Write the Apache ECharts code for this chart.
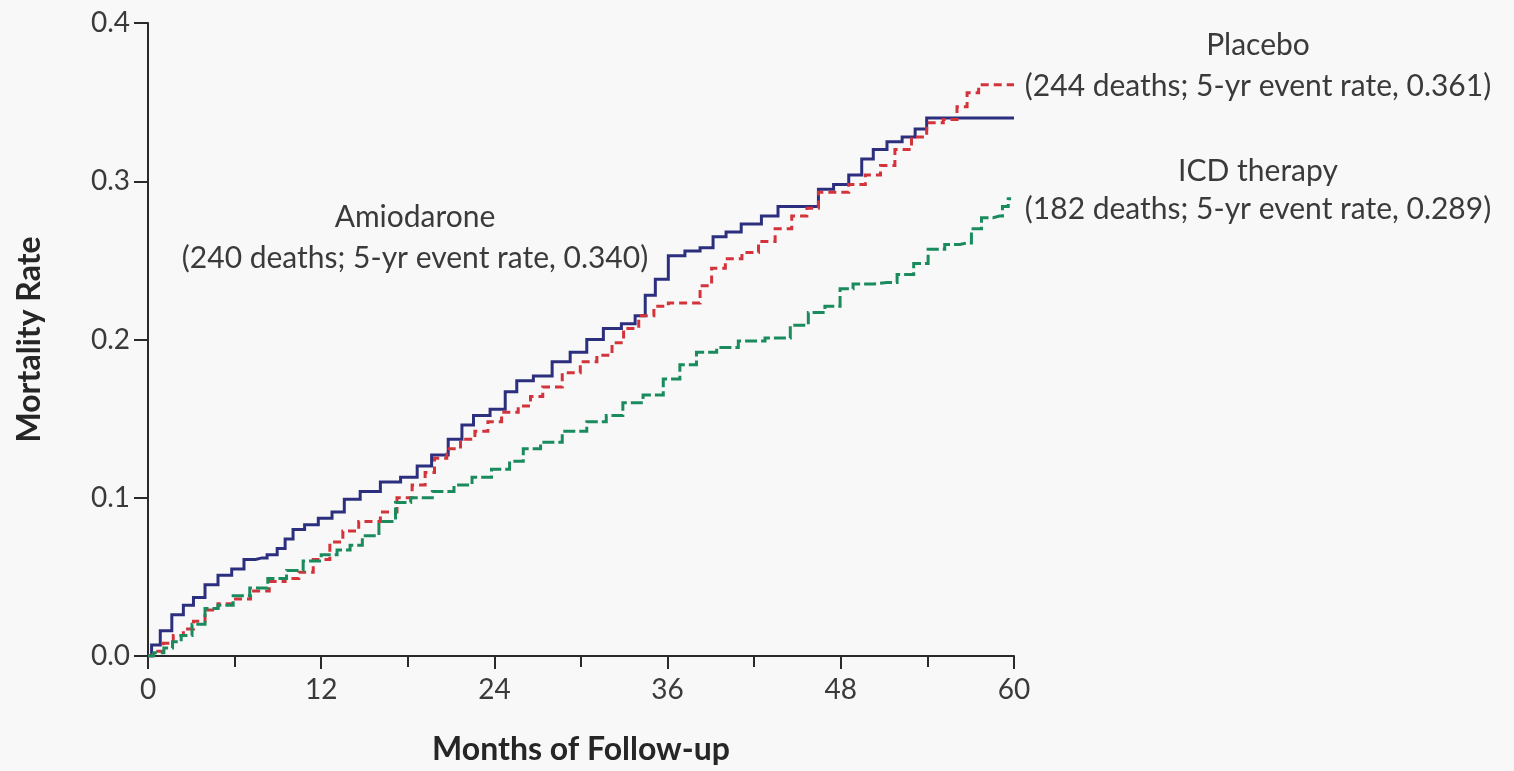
<!DOCTYPE html>
<html>
<head>
<meta charset="utf-8">
<title>Mortality Rate by Treatment Group</title>
<script src="https://cdn.jsdelivr.net/npm/echarts@6/dist/echarts.min.js"></script>
<style>
  html, body { margin: 0; padding: 0; background: #f8f8f8; }
  #chart { width: 1514px; height: 771px; }
</style>
</head>
<body>
<div id="chart"></div>
<script>
// Kaplan-Meier style cumulative mortality, months 0-60
const xTicks = [0, 12, 24, 36, 48, 60];
const yTicks = [0.0, 0.1, 0.2, 0.3, 0.4];

const amioMonths = [0, 0.5, 1.2, 2.1, 2.8, 3.5, 4.4, 5.3, 6.3, 7.0,
  7.9, 8.6, 9.3, 9.7, 10.4, 11.3, 12.3, 13.2, 14.0, 15.4,
  16.8, 18.2, 19.1, 20.2, 21.4, 22.1, 23.0, 24.4, 25.1, 26.0,
  27.4, 28.6, 29.9, 30.9, 32.2, 33.4, 34.1, 34.8, 35.5, 36.6,
  37.8, 38.7, 39.6, 40.5, 41.7, 43.3, 44.0, 45.9, 47.0, 48.0,
  49.1, 49.8, 50.7, 51.7, 52.8, 53.5, 54.4, 60];
const amioRates = [0, 0.007, 0.016, 0.026, 0.032, 0.037, 0.045, 0.051, 0.055, 0.061,
  0.062, 0.064, 0.068, 0.074, 0.080, 0.083, 0.087, 0.091, 0.099, 0.104,
  0.110, 0.113, 0.120, 0.127, 0.137, 0.146, 0.152, 0.156, 0.167, 0.174,
  0.177, 0.186, 0.192, 0.200, 0.207, 0.210, 0.215, 0.228, 0.238, 0.253,
  0.256, 0.258, 0.265, 0.268, 0.273, 0.278, 0.284, 0.284, 0.295, 0.298,
  0.304, 0.314, 0.320, 0.325, 0.328, 0.333, 0.340, 0.340];

const placeboMonths = [0, 0.7, 1.4, 2.1, 2.8, 3.5, 4.4, 5.3, 6.4, 7.8,
  9.0, 10.0, 10.9, 12.0, 13.2, 13.8, 15.4, 16.8, 17.7, 18.9,
  19.5, 20.2, 21.2, 22.1, 23.2, 23.9, 25.1, 26.2, 26.8, 27.9,
  29.5, 30.4, 31.8, 32.5, 33.4, 34.6, 35.5, 36.6, 37.8, 38.7,
  39.4, 40.6, 41.7, 42.9, 44.0, 45.2, 46.1, 46.8, 48.0, 49.1,
  50.3, 51.2, 52.3, 53.5, 54.4, 55.8, 56.3, 57.2, 57.9, 60];
const placeboRates = [0, 0.003, 0.008, 0.013, 0.017, 0.022, 0.029, 0.033, 0.036, 0.041,
  0.047, 0.049, 0.053, 0.061, 0.072, 0.079, 0.085, 0.091, 0.100, 0.108,
  0.116, 0.125, 0.131, 0.137, 0.142, 0.148, 0.154, 0.158, 0.164, 0.170,
  0.179, 0.186, 0.190, 0.198, 0.207, 0.215, 0.221, 0.223, 0.223, 0.234,
  0.245, 0.251, 0.255, 0.262, 0.270, 0.278, 0.283, 0.293, 0.293, 0.298,
  0.304, 0.310, 0.320, 0.328, 0.337, 0.339, 0.347, 0.356, 0.361, 0.361];

const icdMonths = [0, 0.8, 1.4, 2.0, 2.6, 3.5, 4.4, 5.3, 6.5, 7.6,
  9.0, 10.2, 11.3, 12.7, 13.5, 14.5, 15.2, 16.8, 17.5, 18.9,
  20.5, 21.9, 23.0, 24.6, 25.5, 26.5, 27.9, 29.5, 31.3, 32.2,
  33.6, 35.0, 36.4, 37.3, 38.7, 40.1, 41.7, 43.8, 45.2, 46.3,
  47.5, 48.4, 49.3, 51.2, 52.6, 53.5, 54.6, 55.8, 56.7, 57.4,
  58.1, 59.0, 59.4, 59.8];
const icdRates = [0, 0.002, 0.005, 0.009, 0.013, 0.020, 0.030, 0.032, 0.038, 0.043,
  0.049, 0.054, 0.060, 0.064, 0.067, 0.070, 0.076, 0.085, 0.097, 0.100,
  0.104, 0.108, 0.113, 0.118, 0.123, 0.131, 0.135, 0.142, 0.148, 0.152,
  0.160, 0.165, 0.175, 0.184, 0.192, 0.195, 0.199, 0.201, 0.209, 0.217,
  0.221, 0.232, 0.235, 0.236, 0.241, 0.248, 0.257, 0.260, 0.261, 0.270,
  0.277, 0.278, 0.284, 0.289];

const seriesNames = ['Amiodarone', 'Placebo', 'ICD therapy'];
const groupNotes = [
  '(240 deaths; 5-yr event rate, 0.340)',
  '(244 deaths; 5-yr event rate, 0.361)',
  '(182 deaths; 5-yr event rate, 0.289)'
];

const zip = (xs, ys) => xs.map((x, i) => [x, ys[i]]);

const FONT = 'Lato, "Open Sans", sans-serif';
const TEXT = '#3a3a3a';
const AXIS = '#2a2a2a';

const chart = echarts.init(document.getElementById('chart'), null, { renderer: 'canvas' });

const lineSeries = (name, data, color, type) => ({
  name,
  type: 'line',
  step: 'middle',
  data,
  showSymbol: false,
  symbol: 'none',
  animation: false,
  lineStyle: { color, width: 3, type, cap: 'butt', join: 'miter' }
});

// one centred line of annotation text
const note = (cx, cy, text) => ({
  type: 'text',
  x: cx, y: cy,
  style: {
    text,
    fill: TEXT,
    font: '30px ' + FONT,
    textAlign: 'center',
    textVerticalAlign: 'middle'
  }
});

chart.setOption({
  backgroundColor: '#f8f8f8',
  animation: false,
  grid: { left: 148, right: 500, top: 23, bottom: 113, containLabel: false },
  xAxis: {
    type: 'value',
    min: 0, max: 60, interval: 12,
    axisLine: { show: true, lineStyle: { color: AXIS, width: 2 } },
    axisTick: { show: true, length: 13, lineStyle: { color: AXIS, width: 2 } },
    minorTick: { show: true, splitNumber: 2, length: 11, lineStyle: { color: AXIS, width: 2 } },
    splitLine: { show: false },
    axisLabel: {
      color: TEXT, fontFamily: FONT, fontSize: 28, margin: 20,
      formatter: v => xTicks.includes(v) ? String(v) : ''
    },
    name: 'Months of Follow-up',
    nameLocation: 'middle',
    nameGap: 78,
    nameTextStyle: { color: '#262626', fontFamily: FONT, fontSize: 32, fontWeight: 'bold' }
  },
  yAxis: {
    type: 'value',
    min: 0, max: 0.4, interval: 0.1,
    axisLine: { show: true, lineStyle: { color: AXIS, width: 2 } },
    axisTick: { show: true, length: 14, lineStyle: { color: AXIS, width: 2 } },
    splitLine: { show: false },
    axisLabel: {
      color: TEXT, fontFamily: FONT, fontSize: 28, margin: 18,
      formatter: v => yTicks.some(t => Math.abs(t - v) < 1e-9) ? v.toFixed(1) : ''
    },
    name: 'Mortality Rate',
    nameLocation: 'middle',
    nameGap: 102,
    nameRotate: 90,
    nameTextStyle: { color: '#262626', fontFamily: FONT, fontSize: 32, fontWeight: 'bold' }
  },
  series: [
    lineSeries(seriesNames[0], zip(amioMonths, amioRates), '#2c2f7e', 'solid'),
    lineSeries(seriesNames[1], zip(placeboMonths, placeboRates), '#d3333b', [8, 5]),
    lineSeries(seriesNames[2], zip(icdMonths, icdRates), '#1a8b5c', [12, 4])
  ],
  graphic: [
    note(415, 217, seriesNames[0]),
    note(415, 258, groupNotes[0]),
    note(1258, 45, seriesNames[1]),
    note(1258, 86, groupNotes[1]),
    note(1258, 171, seriesNames[2]),
    note(1258, 209, groupNotes[2])
  ]
});
</script>
</body>
</html>
